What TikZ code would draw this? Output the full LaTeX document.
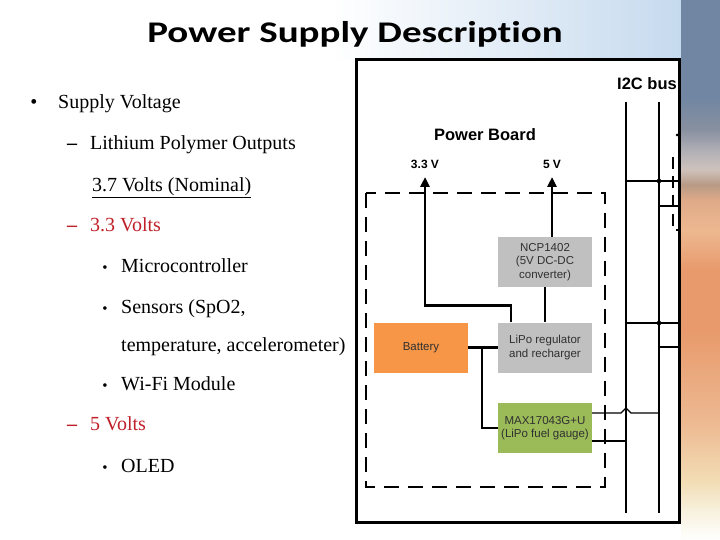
\documentclass[tikz,border=0pt]{standalone}
\usepackage{fontspec}
\setmainfont{Liberation Serif}
\newfontfamily\titlefont[Ligatures=NoCommon, FakeStretch=1.3]{Carlito}
\newfontfamily\boardfont{Liberation Sans}
\usetikzlibrary{arrows.meta,calc}
\definecolor{itemred}{HTML}{C0202A}
\definecolor{regray}{HTML}{C0C0C0}
\definecolor{battorange}{HTML}{F79646}
\definecolor{gaugegreen}{HTML}{9BBB59}
\definecolor{boxtext}{HTML}{303030}
\definecolor{skytint}{HTML}{C6DAEE}
\definecolor{sidetop}{HTML}{7086A2}
\definecolor{sidemid}{HTML}{8890A0}
\definecolor{sidegrey}{HTML}{B2B0B6}
\definecolor{sideband}{HTML}{CFC2BC}
\definecolor{sidebrown}{HTML}{B89A86}
\definecolor{sidepeach}{HTML}{DEAA88}
\definecolor{sideorange}{HTML}{E89A6C}
\definecolor{sidelight}{HTML}{EDB890}
\definecolor{sidecream}{HTML}{F2DCB4}
\definecolor{sidepale}{HTML}{F7F0DC}
\pgfdeclareverticalshading{slideside}{100bp}{color(0bp)=(white); color(25bp)=(white);
  color(27.8bp)=(sidepale); color(30.5bp)=(sidecream); color(36.1bp)=(sidelight);
  color(44.4bp)=(sideorange); color(50bp)=(sideorange); color(53.7bp)=(sidelight);
  color(56.5bp)=(sidepeach); color(57.9bp)=(sidebrown); color(59.3bp)=(sideband);
  color(61bp)=(sidegrey); color(63bp)=(sidemid); color(66bp)=(sidetop);
  color(75bp)=(sidetop); color(100bp)=(sidetop)}
\tikzset{
  item/.style={anchor=base west, inner sep=0pt, font=\fontsize{20}{24}\selectfont},
  pip/.style={anchor=base, inner sep=0pt, font=\fontsize{15}{18}\selectfont},
  bigpip/.style={anchor=base, inner sep=0pt, font=\fontsize{20}{24}\selectfont},
  block/.style={minimum width=94pt, minimum height=50pt, inner sep=0pt, align=center, text=boxtext, font=\boardfont\fontsize{11.5}{13.5}\selectfont},
  rail/.style={inner sep=0pt, font=\boardfont\bfseries\fontsize{12}{14}\selectfont},
  wire/.style={line width=2.6pt},
  thinwire/.style={line width=1.3pt},
  feed/.style={wire, -{Triangle[length=10pt,width=9pt]}}
}

\begin{document}
\begin{tikzpicture}[x=1pt,y=-1pt]
  \useasboundingbox (0,0) rectangle (720,540);
  % slide background
  \fill[white] (0,0) rectangle (720,540);
  \shade[left color=white, right color=skytint] (330,0) rectangle (681,60);
  \shade[shading=slideside] (681,0) rectangle (720,540);

  % title
  \node[anchor=base, font=\titlefont\bfseries\fontsize{30}{36}\selectfont] (title) at (355,43) {Power Supply Description};

  % bullet list
  \node[bigpip] at (34,109) {\textbullet};
  \node[item] (supply) at (58,109) {Supply Voltage};
  \node[item] at (67,150) {\bfseries --};
  \node[item] (lipo out) at (90,150) {Lithium Polymer Outputs};
  \node[item] (nominal) at (92,192) {\underline{3.7 Volts (Nominal)}};
  \node[item, text=itemred] at (67,232) {\bfseries --};
  \node[item, text=itemred] (v33 item) at (90,232) {3.3 Volts};
  \node[pip] at (105,272) {\textbullet};
  \node[item] (mcu) at (121,272) {Microcontroller};
  \node[pip] at (105,313) {\textbullet};
  \node[item] (sensors) at (121,313) {Sensors (SpO2,};
  \node[item] (sensors2) at (121,351) {temperature, accelerometer)};
  \node[pip] at (105,390) {\textbullet};
  \node[item] (wifi) at (121,390) {Wi-Fi Module};
  \node[item, text=itemred] at (67,430) {\bfseries --};
  \node[item, text=itemred] (v5 item) at (90,430) {5 Volts};
  \node[pip] at (105,472) {\textbullet};
  \node[item] (oled) at (121,472) {OLED};

  % power board figure
  \fill[white] (356,60) rectangle (679,522);
  \node[anchor=west, inner sep=0pt, font=\boardfont\bfseries\fontsize{16.5}{18}\selectfont] (i2c) at (617,84) {I2C bus};
  \node[inner sep=0pt, font=\boardfont\bfseries\fontsize{16.5}{18}\selectfont] (board) at (485,135) {Power Board};
  \node[rail] (v33) at (425,164) {3.3 V};
  \node[rail] (v5) at (552,164) {5 V};
  \coordinate (t33) at (425,177);
  \coordinate (t5) at (552,177);
  \draw[line width=1.5pt, dash pattern=on 15pt off 9pt] (366,193) rectangle (605,487);

  \node[block, fill=regray] (ncp) at (545,262) {NCP1402\\(5V DC-DC\\converter)};
  \node[block, fill=regray] (lipo) at (545,347.5) {LiPo regulator\\and recharger};
  \node[block, fill=battorange] (batt) at (421,347.5) {Battery};
  \node[block, fill=gaugegreen] (gauge) at (545,428) {MAX17043G+U\\(LiPo fuel gauge)};

  \draw[feed] ([xshift=13pt]lipo.north west) -- ++(0,-17) -| (t33);
  \draw[feed] (ncp.north -| t5) -- (t5);
  \draw[wire] (ncp.south) -- (lipo.north);
  \draw[wire] (batt.east) -- (lipo.west);
  \coordinate (split) at (482,347.5);
  \draw[wire] (split) |- (gauge.west);

  % I2C bus lines
  \coordinate (scl top) at (626,102);
  \coordinate (scl end) at (626,513);
  \coordinate (sda top) at (659,102);
  \coordinate (sda end) at (659,513);
  \draw[line width=1.8pt] (scl top) -- (scl end);
  \draw[line width=2.8pt] (sda top) -- (sda end);
  \draw[thinwire] ([yshift=15pt]gauge.east) -- (621,413) -- (626,408) -- (631,413) -- (sda top |- 0,413);
  \draw[wire] ([yshift=-13pt]gauge.east) -- (scl top |- 0,441);
  \draw[thinwire] (626,181) -- (679,181);
  \draw[thinwire] (659,206) -- (679,206);
  \draw[thinwire] (626,323) -- (679,323);
  \draw[wire] (659,347) -- (679,347);
  \fill (659,181) circle (2.3pt);
  \fill (659,323) circle (2.3pt);
  \fill (677,135) circle (1.5pt);
  \draw[line width=1.2pt, dash pattern=on 12pt off 7pt] (673,157) -- (673,230) -- (679,230);

  \draw[line width=3pt] (356,60) rectangle (679,522);
\end{tikzpicture}
\end{document}
